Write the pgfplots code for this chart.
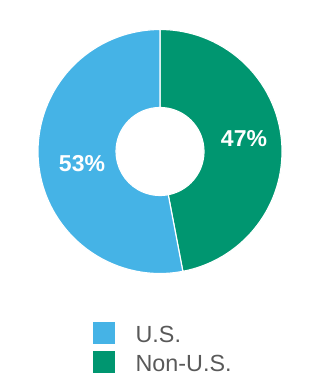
\documentclass[border=0pt]{standalone}
\usepackage{pgfplots}
\usepackage{pgfplotstable}
\pgfplotsset{compat=1.18}
\usepackage{fontspec}
\setmainfont{Liberation Sans}
\definecolor{usblue}{RGB}{69,179,230}
\definecolor{nongreen}{RGB}{0,150,112}
\definecolor{legtext}{RGB}{89,89,89}
\pgfplotstableread{
region share
Non-U.S. 47
U.S. 53
}\shares
\pgfplotstablegetelem{0}{share}\of\shares \let\nonus\pgfplotsretval
\pgfplotstablegetelem{1}{share}\of\shares \let\us\pgfplotsretval
\pgfmathsetmacro\angA{90-3.6*\nonus}
\pgfmathsetmacro\angB{\angA-3.6*\us}
\begin{document}
\begin{tikzpicture}
\begin{axis}[name=donut,x=0.6pt,y=0.6pt,xmin=0,xmax=320,ymin=0,ymax=380,
  hide axis,clip=false,
  legend image code/.code={\fill[#1,draw=none] (0pt,-0.8pt) rectangle (13.2pt,12.4pt);},
  legend style={draw=none,fill=none,inner sep=0pt,outer sep=0pt,
    at={(axis cs:93.3,58.3)},anchor=north west,
    font=\fontsize{14}{16.8}\selectfont\color{legtext},
    nodes={inner sep=0pt,outer sep=0pt,anchor=base west},
    row sep=3.8pt,
    /tikz/every odd column/.append style={column sep=12.2pt}},
]
\fill[nongreen,draw=white,line width=0.7pt,shift={(axis cs:160,228.5)}]
  (90:73.2pt) arc[start angle=90,end angle=\angA,radius=73.2pt]
  -- (\angA:26.4pt) arc[start angle=\angA,end angle=90,radius=26.4pt] -- cycle;
\fill[usblue,draw=white,line width=0.7pt,shift={(axis cs:160,228.5)}]
  (\angA:73.2pt) arc[start angle=\angA,end angle=\angB,radius=73.2pt]
  -- (\angB:26.4pt) arc[start angle=\angB,end angle=\angA,radius=26.4pt] -- cycle;
\node[anchor=base,text=white,font=\fontsize{13.8}{16}\selectfont\bfseries] at (axis cs:244,233.3) {\nonus\%};
\node[anchor=base,text=white,font=\fontsize{13.8}{16}\selectfont\bfseries] at (axis cs:82,208.3) {\us\%};
\addlegendimage{fill=usblue}
\addlegendentry{U.S.}
\addlegendimage{fill=nongreen}
\addlegendentry{Non-U.S.}
\end{axis}
\pgfresetboundingbox
\path (donut.south west) rectangle (donut.north east);
\end{tikzpicture}
\end{document}
